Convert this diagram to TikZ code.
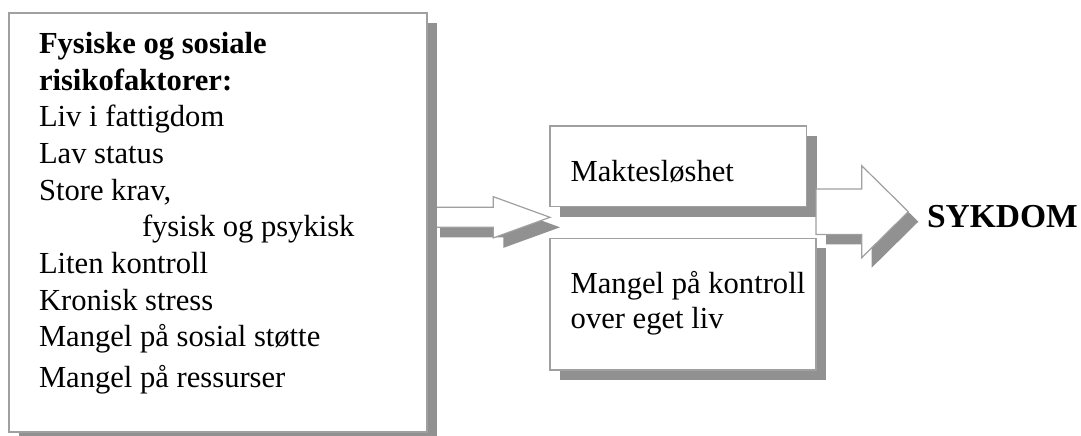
\documentclass[tikz,border=0pt]{standalone}
\usepackage{fontspec}
\setmainfont{Liberation Serif}
\usetikzlibrary{shadows,calc}
\definecolor{shadowgray}{RGB}{145,145,145}
\definecolor{bordergray}{RGB}{160,160,160}
\begin{document}
\begin{tikzpicture}[x=1pt,y=-1pt,
  myshadow/.style={drop shadow={shadow xshift=10pt, shadow yshift=-10pt, fill=shadowgray, opacity=1}},
  box/.style={draw=bordergray, line width=1.3pt, fill=white, inner sep=0pt, outer sep=0pt, rectangle, myshadow},
  txt/.style={anchor=base west, inner sep=0pt, outer sep=0pt, font=\fontsize{30.6}{36.7}\selectfont},
  blockarrow/.style={draw=bordergray, line width=1.2pt, fill=white, line join=miter, myshadow}]
\useasboundingbox (0,0) rectangle (1081,436);
\clip (0,0) rectangle (1081,436);
% arrow 1 (behind the left box)
\coordinate (a1start) at (430,217.3);
\coordinate (a1tip) at (550,217.3);
\draw[blockarrow] ($(a1start)+(0,-10)$) -- ($(a1tip)+(-56.7,-10)$) -- ($(a1tip)+(-56.7,-20.6)$)
  -- (a1tip) -- ($(a1tip)+(-56.7,20.6)$) -- ($(a1tip)+(-56.7,10)$) -- ($(a1start)+(0,10)$) -- cycle;
% boxes
\node[box, minimum width=418pt, minimum height=419pt] (left) at (218,222.5) {};
\node[box, minimum width=256.7pt, minimum height=80.7pt] (top) at (678.3,166.35) {};
\node[box, minimum width=266pt, minimum height=131.7pt] (bot) at (683,304.15) {};
% arrow 2
\coordinate (a2start) at (816,211.7);
\coordinate (a2tip) at (908.3,211.7);
\draw[blockarrow] ($(a2start)+(0,-22.7)$) -- ($(a2tip)+(-46.6,-22.7)$) -- ($(a2tip)+(-46.6,-46)$)
  -- (a2tip) -- ($(a2tip)+(-46.6,46)$) -- ($(a2tip)+(-46.6,22.7)$) -- ($(a2start)+(0,22.7)$) -- cycle;
% left box text
\node[txt] (l1) at (39,53.3) {\bfseries Fysiske og sosiale};
\node[txt] (l2) at (39,90) {\bfseries risikofaktorer:};
\node[txt] (l3) at (39,126.7) {Liv i fattigdom};
\node[txt] (l4) at (39,163.4) {Lav status};
\node[txt] (l5) at (39,200.1) {Store krav,};
\node[txt] (l6) at (142,236.8) {fysisk og psykisk};
\node[txt] (l7) at (39,273.5) {Liten kontroll};
\node[txt] (l8) at (39,310.2) {Kronisk stress};
\node[txt] (l9) at (39,346.9) {Mangel på sosial støtte};
\node[txt] (l10) at (39,387) {Mangel på ressurser};
% middle texts
\node[txt] (m1) at (570.7,181.7) {Maktesløshet};
\node[txt] (m2) at (570.7,293.3) {Mangel på kontroll};
\node[txt] (m3) at (570.7,328.3) {over eget liv};
% result
\node[txt, font=\fontsize{33.5}{40}\selectfont\bfseries] (syk) at (927,227) {SYKDOM};
\end{tikzpicture}
\end{document}
